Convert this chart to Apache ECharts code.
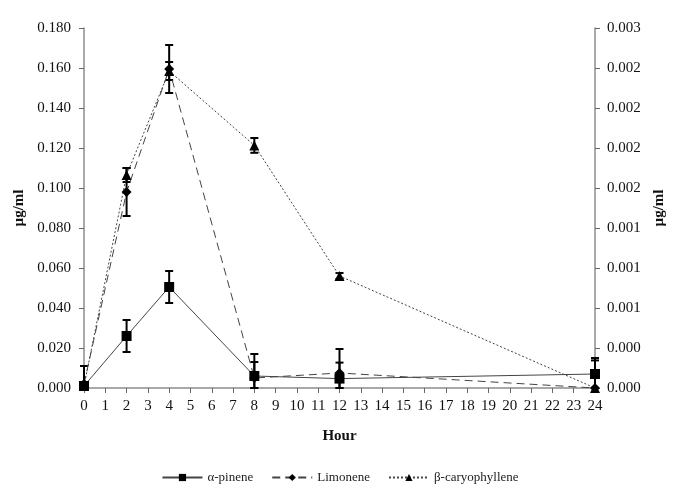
<!DOCTYPE html>
<html><head><meta charset="utf-8">
<script src="https://cdn.jsdelivr.net/npm/echarts@6/dist/echarts.min.js"></script>
<style>html,body{margin:0;padding:0;background:#fff}#c{width:680px;height:497px}</style>
</head><body><div id="c"></div>
<script>
const hours = [0, 2, 4, 8, 12, 24];
const pinene = [0.001, 0.026, 0.0505, 0.006, 0.0047, 0.007];
const pineneErr = [0.001, 0.008, 0.008, 0.011, 0.008, 0.008];
const limonene = [0.002, 0.098, 0.1595, 0.005, 0.0075, 0.000];
const limoneneErr = [0.009, 0.012, 0.012, 0.008, 0.012, 0.0138];
const caryo = [0.001, 0.1065, 0.1585, 0.1213, 0.056, 0.000];
const caryoErr = [0.001, 0.0035, 0.0045, 0.0037, 0.0015, 0.0];
const leftTicks = ['0.000','0.020','0.040','0.060','0.080','0.100','0.120','0.140','0.160','0.180'];
const rightTicks = ['0.000','0.000','0.001','0.001','0.001','0.002','0.002','0.002','0.002','0.003'];
const seriesNames = ['α-pinene', 'Limonene', 'β-caryophyllene'];

const FONT = '"Liberation Serif", "DejaVu Serif", serif';
const chart = echarts.init(document.getElementById('c'));

function pts(vals){ return hours.map((h,i)=>[h, vals[i]]); }
function errData(vals, errs){ return hours.map((h,i)=>[h, Math.max(0, vals[i]-errs[i]), vals[i]+errs[i]]); }
function errSeries(vals, errs){
  return {
    type: 'custom', xAxisIndex: 0, yAxisIndex: 0, z: 5, silent: true,
    data: errData(vals, errs),
    renderItem: function(params, api){
      const x = api.value(0);
      const lo = api.coord([x, api.value(1)]);
      const hi = api.coord([x, api.value(2)]);
      const w = 4;
      const st = {stroke: '#000', lineWidth: 2};
      return {type: 'group', children: [
        {type: 'line', shape: {x1: lo[0], y1: lo[1], x2: hi[0], y2: hi[1]}, style: st},
        {type: 'line', shape: {x1: hi[0]-w, y1: hi[1], x2: hi[0]+w, y2: hi[1]}, style: st},
        {type: 'line', shape: {x1: lo[0]-w, y1: lo[1], x2: lo[0]+w, y2: lo[1]}, style: st}
      ]};
    }
  };
}

const axisLine = {show: true, lineStyle: {color: '#8c8c8c', width: 1.5}};
const axisTick = {show: true, length: 5, lineStyle: {color: '#666'}};
const lbl = {color: '#111', fontFamily: FONT, fontSize: 15};

chart.setOption({
  animation: false,
  grid: {left: 84, right: 85, top: 28, bottom: 109},
  legend: {
    bottom: 8, left: 'center', itemWidth: 40, itemHeight: 9, itemGap: 18,
    textStyle: {fontFamily: FONT, fontSize: 13, color: '#222'},
    data: seriesNames
  },
  xAxis: {
    type: 'value', min: 0, max: 24, interval: 1,
    axisLine: axisLine, axisTick: axisTick, splitLine: {show: false},
    axisLabel: Object.assign({margin: 11}, lbl),
    name: 'Hour', nameLocation: 'middle', nameGap: 41,
    nameTextStyle: {fontFamily: FONT, fontSize: 15, fontWeight: 'bold', color: '#111'}
  },
  yAxis: [{
    type: 'value', min: 0, max: 0.18, interval: 0.02, position: 'left',
    axisLine: axisLine, axisTick: axisTick, splitLine: {show: false},
    axisLabel: Object.assign({margin: 13, formatter: (v)=>leftTicks[Math.round(v/0.02)]}, lbl),
    name: 'µg/ml', nameLocation: 'middle', nameGap: 57, nameRotate: 90,
    nameTextStyle: {fontFamily: FONT, fontSize: 15, fontWeight: 'bold', color: '#111'}
  }, {
    type: 'value', min: 0, max: 0.0027, interval: 0.0003, position: 'right',
    axisLine: axisLine, axisTick: axisTick, splitLine: {show: false},
    axisLabel: Object.assign({margin: 12, formatter: (v)=>rightTicks[Math.round(v/0.0003)]}, lbl),
    name: 'µg/ml', nameLocation: 'middle', nameGap: 57, nameRotate: 90,
    nameTextStyle: {fontFamily: FONT, fontSize: 15, fontWeight: 'bold', color: '#111'}
  }],
  series: [
    {name: seriesNames[0], type: 'line', data: pts(pinene), symbol: 'rect', symbolSize: 10,
     itemStyle: {color: '#000'}, lineStyle: {color: '#444', width: 1, type: 'solid'}, z: 6},
    {name: seriesNames[1], type: 'line', data: pts(limonene), symbol: 'diamond', symbolSize: 10,
     itemStyle: {color: '#000'}, lineStyle: {color: '#444', width: 1, type: [8, 5]}, z: 6},
    {name: seriesNames[2], type: 'line', data: pts(caryo), symbol: 'triangle', symbolSize: 10,
     itemStyle: {color: '#000'}, lineStyle: {color: '#444', width: 1, type: [2, 2]}, z: 6},
    errSeries(pinene, pineneErr),
    errSeries(limonene, limoneneErr),
    errSeries(caryo, caryoErr)
  ]
});
</script></body></html>
